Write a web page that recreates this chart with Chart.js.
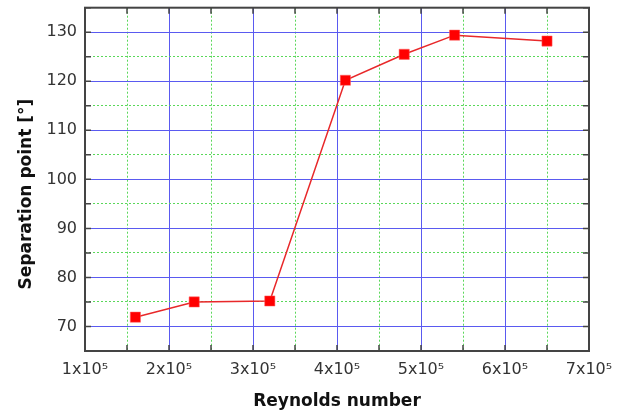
<!DOCTYPE html>
<html>
<head>
<meta charset="utf-8">
<script src="https://cdn.jsdelivr.net/npm/chart.js@4/dist/chart.umd.min.js"></script>
<style>
  html, body { margin: 0; padding: 0; background: #fff; }
  #wrap { width: 623px; height: 412px; }
</style>
</head>
<body>
<div id="wrap"><canvas id="chart" width="623" height="412"></canvas></div>
<script>
// Separation point vs Reynolds number
const reynolds = [1.6e5, 2.3e5, 3.2e5, 4.1e5, 4.8e5, 5.4e5, 6.5e5];
const separation = [71.9, 75.0, 75.2, 120.2, 125.5, 129.4, 128.2];
const xTickLabels = ["1x10⁵", "2x10⁵", "3x10⁵", "4x10⁵", "5x10⁵", "6x10⁵", "7x10⁵"];
const yTickLabels = ["70", "80", "90", "100", "110", "120", "130"];

const isMajorX = (v) => Math.abs(v / 1e5 - Math.round(v / 1e5)) < 1e-6;
const isMajorY = (v) => v % 10 === 0;

// frame + inward tick marks on all four sides
const framePlugin = {
  id: "frame",
  afterDraw(chart) {
    const { ctx, chartArea: a, scales } = chart;
    ctx.save();
    ctx.strokeStyle = "#444";
    ctx.lineWidth = 1.5;
    scales.x.ticks.forEach((t) => {
      const px = scales.x.getPixelForValue(t.value);
      const len = 6;
      ctx.beginPath();
      ctx.moveTo(px, a.bottom);
      ctx.lineTo(px, a.bottom - len);
      ctx.moveTo(px, a.top);
      ctx.lineTo(px, a.top + len);
      ctx.stroke();
    });
    scales.y.ticks.forEach((t) => {
      const py = scales.y.getPixelForValue(t.value);
      const len = 6;
      ctx.beginPath();
      ctx.moveTo(a.left, py);
      ctx.lineTo(a.left + len, py);
      ctx.moveTo(a.right, py);
      ctx.lineTo(a.right - len, py);
      ctx.stroke();
    });
    ctx.lineWidth = 2;
    ctx.strokeRect(a.left, a.top, a.right - a.left, a.bottom - a.top);
    ctx.restore();
  },
};

const noPad = (s) => {
  s.paddingTop = 0;
  s.paddingBottom = 0;
  s.paddingLeft = 0;
  s.paddingRight = 0;
};

new Chart(document.getElementById("chart"), {
  type: "scatter",
  data: {
    datasets: [
      {
        data: reynolds.map((x, i) => ({ x: x, y: separation[i] })),
        showLine: true,
        borderColor: "#e8282a",
        borderWidth: 1.5,
        backgroundColor: "#ff0000",
        pointStyle: "rect",
        pointRadius: 7.2,
        pointBorderColor: "#ff6060",
        pointBorderWidth: 0.5,
      },
    ],
  },
  options: {
    responsive: false,
    animation: false,
    layout: { padding: { left: 0, right: 34, top: 7, bottom: 0 } },
    plugins: {
      legend: { display: false },
      tooltip: { enabled: false },
    },
    scales: {
      x: {
        type: "linear",
        min: 1e5,
        max: 7e5,
        afterBuildTicks: (s) => {
          s.ticks = [];
          for (let v = 1e5; v <= 7e5 + 1; v += 0.5e5) s.ticks.push({ value: v });
        },
        afterFit: (s) => { s.height = 61; noPad(s); },
        grid: {
          drawTicks: false,
          color: (c) => (isMajorX(c.tick.value) ? "#5a5af0" : "rgba(0,0,0,0)"),
          lineWidth: 1,
        },
        border: { display: false },
        ticks: {
          padding: 9,
          autoSkip: false,
          maxRotation: 0,
          color: "#333",
          font: { family: "DejaVu Sans", size: 16 },
          callback: (v) => (isMajorX(v) ? xTickLabels[Math.round(v / 1e5) - 1] : ""),
        },
        title: {
          display: true,
          text: "Reynolds number",
          color: "#111",
          font: { family: "DejaVu Sans", size: 17, weight: "bold" },
          padding: { top: 2, bottom: 0 },
        },
      },
      xMinor: {
        type: "linear",
        position: "bottom",
        display: true,
        min: 1e5,
        max: 7e5,
        afterBuildTicks: (s) => {
          s.ticks = [];
          for (let v = 1.5e5; v <= 7e5; v += 1e5) s.ticks.push({ value: v });
        },
        afterFit: (s) => { s.height = 0; noPad(s); },
        grid: { drawTicks: false, color: "#5ad85a", lineWidth: 1 },
        border: { display: false, dash: [2, 2] },
        ticks: { display: false },
      },
      y: {
        min: 65,
        max: 135,
        afterBuildTicks: (s) => {
          s.ticks = [];
          for (let v = 65; v <= 135; v += 5) s.ticks.push({ value: v });
        },
        afterFit: (s) => { s.width = 85; noPad(s); },
        grid: {
          drawTicks: false,
          color: (c) => (isMajorY(c.tick.value) ? "#5a5af0" : "rgba(0,0,0,0)"),
          lineWidth: 1,
        },
        border: { display: false },
        ticks: {
          padding: 8,
          autoSkip: false,
          color: "#333",
          font: { family: "DejaVu Sans", size: 16 },
          callback: (v) => (isMajorY(v) ? yTickLabels[(v - 70) / 10] : ""),
        },
        title: {
          display: true,
          text: "Separation point [°]     ",
          color: "#111",
          font: { family: "DejaVu Sans", size: 17, weight: "bold" },
          padding: { top: 16, bottom: 4 },
        },
      },
      yMinor: {
        position: "left",
        min: 65,
        max: 135,
        afterBuildTicks: (s) => {
          s.ticks = [];
          for (let v = 75; v <= 135; v += 10) s.ticks.push({ value: v });
        },
        afterFit: (s) => { s.width = 0; noPad(s); },
        grid: { drawTicks: false, color: "#5ad85a", lineWidth: 1 },
        border: { display: false, dash: [2, 2] },
        ticks: { display: false },
      },
    },
  },
  plugins: [framePlugin],
});
</script>
</body>
</html>
